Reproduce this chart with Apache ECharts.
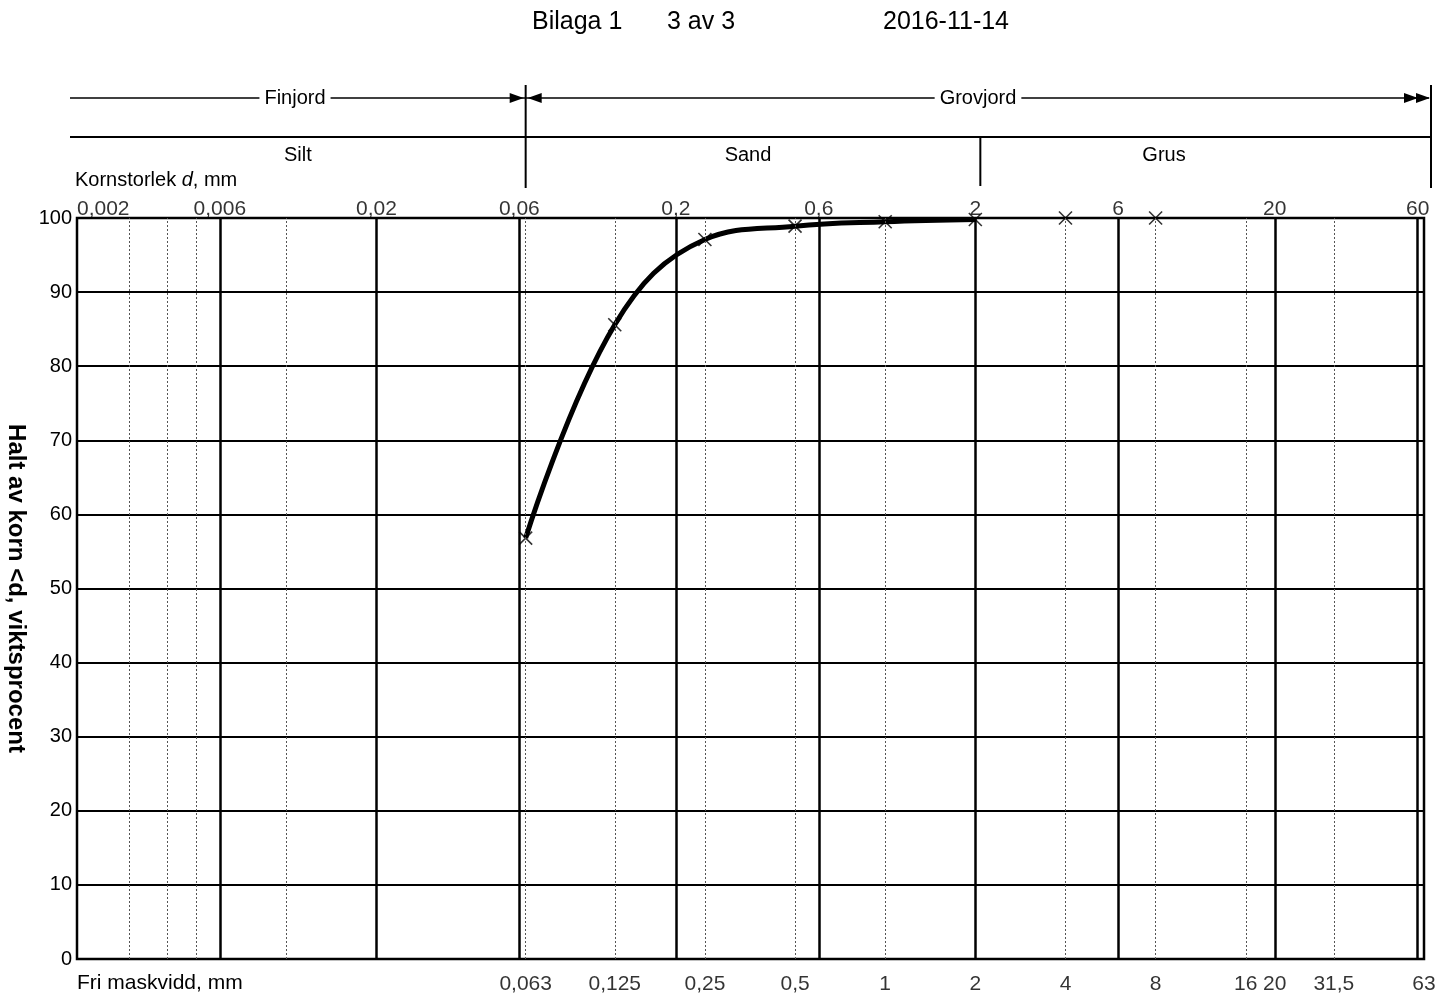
<!DOCTYPE html>
<html lang="sv">
<head>
    <meta charset="utf-8">
    <title>Kornfördelning - Bilaga 1</title>
    <script src="https://cdn.jsdelivr.net/npm/echarts@6.0.0/dist/echarts.min.js"></script>
    <style>
        html, body { margin: 0; padding: 0; background: #fff; }
        #main { width: 1440px; height: 995px; }
    </style>
</head>
<body>
<div id="main"></div>
<script type="text/javascript">
    // siktanalys: fri maskvidd (mm) och passerande mängd (%)
    var sieveSizes = [0.063, 0.125, 0.25, 0.5, 1, 2, 4, 8];
    var passing = [56.8, 85.6, 97.1, 98.9, 99.5, 99.8, 100, 100];
    // kurvan ritas bara fram till 2 mm
    var curveCount = 6;

    // rutnät
    var thickGrid = [0.006, 0.02, 0.06, 0.2, 0.6, 2, 6, 20, 60];
    var dottedGrid = [0.003, 0.004, 0.005, 0.01, 0.063, 0.125, 0.25, 0.5, 1, 4, 8, 16, 31.5];
    // axeltexter
    var topTicks = [0.002, 0.006, 0.02, 0.06, 0.2, 0.6, 2, 6, 20, 60];
    var bottomTicks = [0.063, 0.125, 0.25, 0.5, 1, 2, 4, 8, 16, 20, 31.5, 63];

    var FONT = '"Liberation Sans", Arial, sans-serif';

    function fmt(v) {
        return String(+(+v).toPrecision(6)).replace('.', ',');
    }

    var curve = [];
    for (let i = 0; i < curveCount; i++) {
        curve.push([sieveSizes[i], passing[i]]);
    }
    var marks = [];
    for (let i = 0; i < sieveSizes.length; i++) {
        marks.push([sieveSizes[i], passing[i]]);
    }

    var gridLines = [];
    thickGrid.forEach(function (v) {
        gridLines.push({xAxis: v, lineStyle: {color: '#000', width: 2.5, type: 'solid'}});
    });
    dottedGrid.forEach(function (v) {
        gridLines.push({xAxis: v, lineStyle: {color: '#555', width: 1, type: [2, 2]}});
    });

    var topLabelData = topTicks.map(function (v, i) {
        var item = {value: [v, 100]};
        if (i === 0) {
            item.label = {align: 'left'};
        }
        return item;
    });
    var bottomLabelData = bottomTicks.map(function (v) {
        return {value: [v, 0]};
    });

    var myChart = echarts.init(document.getElementById('main'));

    var option = {
        animation: false,
        textStyle: {fontFamily: FONT},
        grid: {
            left: 77, right: 16, top: 218, bottom: 36,
            outerBoundsMode: 'none',
            containLabel: false,
            show: true, borderColor: '#000', borderWidth: 2.5
        },
        xAxis: {
            type: 'log',
            logBase: 10,
            min: 0.002,
            max: 63,
            axisLine: {show: false},
            axisTick: {show: false},
            axisLabel: {show: false},
            splitLine: {show: false},
            minorSplitLine: {show: false}
        },
        yAxis: {
            type: 'value',
            min: 0,
            max: 100,
            interval: 10,
            name: 'Halt av korn <d, viktsprocent',
            nameLocation: 'middle',
            nameRotate: -90,
            nameGap: 45,
            nameTextStyle: {fontSize: 24, fontWeight: 'bold', color: '#000', fontFamily: FONT},
            axisLine: {show: false},
            axisTick: {show: false},
            axisLabel: {fontSize: 20, color: '#000', margin: 5, fontFamily: FONT},
            splitLine: {lineStyle: {color: '#000', width: 2}}
        },
        series: [
            {
                // vertikala rutnätslinjer
                name: 'grid',
                type: 'line',
                data: [],
                z: 1,
                silent: true,
                markLine: {
                    silent: true,
                    precision: 6,
                    symbol: ['none', 'none'],
                    label: {show: false},
                    data: gridLines
                }
            },
            {
                name: 'Kornkurva',
                type: 'line',
                data: curve,
                smooth: 0.4,
                symbol: 'none',
                z: 3,
                lineStyle: {color: '#000', width: 5}
            },
            {
                name: 'Sikt',
                type: 'scatter',
                data: marks,
                symbol: 'path://M0,0L10,10M10,0L0,10',
                symbolSize: 13,
                z: 4,
                itemStyle: {color: 'none', borderColor: '#000', borderWidth: 1.6}
            },
            {
                // kornstorlek överst
                name: 'topLabels',
                type: 'scatter',
                data: topLabelData,
                symbolSize: 1,
                silent: true,
                itemStyle: {color: 'rgba(0,0,0,0)'},
                label: {
                    show: true,
                    position: 'top',
                    distance: -2,
                    fontSize: 21,
                    color: '#000',
                    fontFamily: FONT,
                    formatter: function (p) { return fmt(p.value[0]); }
                }
            },
            {
                // fri maskvidd nederst
                name: 'bottomLabels',
                type: 'scatter',
                data: bottomLabelData,
                symbolSize: 1,
                silent: true,
                itemStyle: {color: 'rgba(0,0,0,0)'},
                label: {
                    show: true,
                    position: 'bottom',
                    distance: 14,
                    fontSize: 21,
                    color: '#000',
                    fontFamily: FONT,
                    formatter: function (p) { return fmt(p.value[0]); }
                }
            }
        ]
    };
    myChart.setOption(option);

    // rubriker ovanför diagrammet
    var x063 = myChart.convertToPixel({xAxisIndex: 0}, 0.063);
    var x2 = myChart.convertToPixel({xAxisIndex: 0}, 2) + 5;
    var xEnd = myChart.convertToPixel({xAxisIndex: 0}, 63) + 7;
    var xStart = 70;
    var yA = 98, yB = 137;

    function txt(text, x, y, size, align, extra) {
        var style = {
            text: text, x: x, y: y,
            fontSize: size, fontFamily: FONT, fill: '#000',
            align: align || 'center', verticalAlign: 'middle'
        };
        if (extra) {
            for (var k in extra) style[k] = extra[k];
        }
        return {type: 'text', z: 10, style: style};
    }
    function ln(x1, y1, x2, y2, w) {
        return {type: 'line', z: 9, shape: {x1: x1, y1: y1, x2: x2, y2: y2}, style: {stroke: '#000', lineWidth: w}};
    }
    function arrow(tip, dir) {
        // dir = 1 pekar höger, -1 pekar vänster
        return {
            type: 'polygon', z: 9,
            shape: {points: [[tip, yA], [tip - dir * 14, yA - 5], [tip - dir * 14, yA + 5]]},
            style: {fill: '#000'}
        };
    }

    myChart.setOption({
        graphic: [
            txt('Bilaga 1', 532, 22, 25, 'left'),
            txt('3 av 3', 667, 22, 25, 'left'),
            txt('2016-11-14', 883, 22, 25, 'left'),

            ln(xStart, yA, xEnd - 2, yA, 1.5),
            ln(xStart, yB, xEnd, yB, 2),
            ln(x063, 85, x063, 188, 2),
            ln(x2, yB, x2, 186, 2),
            ln(xEnd, 85, xEnd, 188, 2),
            arrow(x063 - 2, 1),
            arrow(x063 + 2, -1),
            arrow(xEnd - 1, 1),
            arrow(xEnd - 13, 1),

            txt('Finjord', 295, yA, 20, 'center', {backgroundColor: '#fff', padding: [2, 5]}),
            txt('Grovjord', 978, yA, 20, 'center', {backgroundColor: '#fff', padding: [2, 5]}),
            txt('Silt', (xStart + x063) / 2, 155, 20),
            txt('Sand', 748, 155, 20),
            txt('Grus', 1164, 155, 20),
            {
                type: 'text', z: 10,
                style: {
                    text: 'Kornstorlek {i|d}, mm', x: 75, y: 180,
                    fontSize: 20, fontFamily: FONT, fill: '#000',
                    align: 'left', verticalAlign: 'middle',
                    rich: {i: {fontStyle: 'italic', fontSize: 20, fontFamily: FONT, fill: '#000'}}
                }
            },
            txt('Fri maskvidd, mm', 77, 983, 21, 'left')
        ]
    });
</script>
</body>
</html>
